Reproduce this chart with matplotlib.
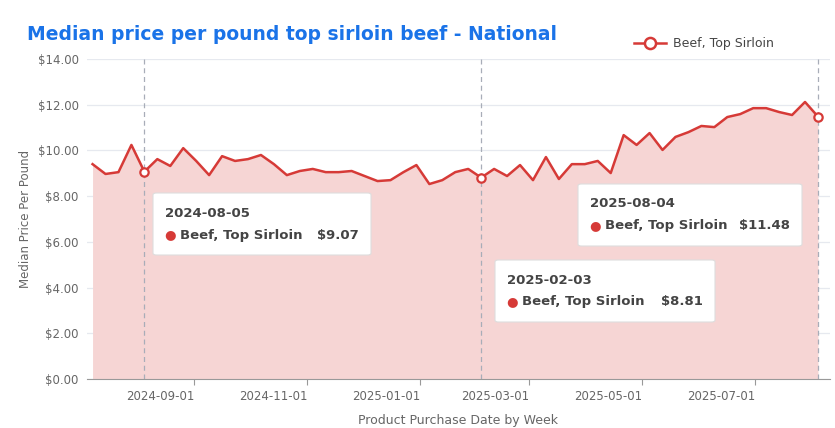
import matplotlib
matplotlib.use("Agg")
import matplotlib.pyplot as plt
import matplotlib.dates as mdates
import numpy as np
import pandas as pd

start = "2024-07-08"
n_weeks = 57
prices = [9.40, 8.97, 9.05, 10.24, 9.07, 9.62, 9.32, 10.10, 9.54, 8.92,
          9.75, 9.54, 9.62, 9.80, 9.40, 8.92, 9.10, 9.19, 9.05, 9.05,
          9.10, 8.88, 8.66, 8.70, 9.05, 9.36, 8.53, 8.70, 9.05, 9.19,
          8.81, 9.19, 8.88, 9.36, 8.70, 9.71, 8.75, 9.40, 9.40, 9.54,
          9.01, 10.67, 10.24, 10.76, 10.02, 10.59, 10.80, 11.07, 11.02, 11.46,
          11.59, 11.85, 11.85, 11.68, 11.55, 12.12, 11.48]
series_name = "Beef, Top Sirloin"
highlight_dates = ["2024-08-05", "2025-02-03", "2025-08-04"]
tick_dates = ["2024-09-01", "2024-11-01", "2025-01-01", "2025-03-01", "2025-05-01", "2025-07-01"]
y_ticks = [0, 2, 4, 6, 8, 10, 12, 14]

dates = pd.date_range(start, periods=n_weeks, freq="7D")
s = pd.Series(prices, index=dates)

W, H = 835, 428
fig = plt.figure(figsize=(W/100, H/100), dpi=100)
ax = fig.add_axes([87/W, 1-379/H, (830-87)/W, (379-59)/H])
red = "#d63a37"
ax.fill_between(dates, prices, 0, color="#f6d5d4", lw=0, zorder=1)
ax.plot(dates, prices, color=red, lw=1.8, zorder=3)
for d in highlight_dates:
    dt = pd.Timestamp(d)
    ax.axvline(dt, color="#a8adb8", lw=0.9, ls=(0, (4, 3)), zorder=2)
    ax.plot(dt, s[dt], "o", ms=6, mfc="white", mec=red, mew=1.6, zorder=4)

ax.set_xlim(pd.Timestamp(start) - pd.Timedelta(days=3), dates[-1] + pd.Timedelta(days=6.5))
ax.set_ylim(0, 14)
ax.set_yticks(y_ticks)
ax.set_yticklabels([f"${v:.2f}" for v in y_ticks], fontsize=8.5, color="#666")
tk = [pd.Timestamp(t) for t in tick_dates]
ax.set_xticks(tk)
ax.set_xticklabels(tick_dates, fontsize=8.5, color="#666", ha="right")
ax.tick_params(axis="y", length=0, pad=6)
ax.tick_params(axis="x", length=4, color="#999", pad=4)
ax.grid(axis="y", color="#e6e9ef", lw=0.9)
for sp in ["top", "right", "left"]:
    ax.spines[sp].set_visible(False)
ax.spines["bottom"].set_color("#999")
ax.set_axisbelow(True)
ax.set_ylabel("Median Price Per Pound", fontsize=8.5, color="#666")
ax.set_xlabel("Product Purchase Date by Week", fontsize=9, color="#666", labelpad=8)

fig.text(27/W, 1-35/H, "Median price per pound top sirloin beef - National", fontsize=13.5,
         fontweight="bold", color="#1a73e8", va="center", family="DejaVu Sans")
# legend
fig.lines.append(plt.Line2D([634/W, 666/W], [1-43/H]*2, color=red, lw=1.8, transform=fig.transFigure))
fig.lines.append(plt.Line2D([650/W], [1-43/H], marker="o", ms=8, mfc="white", mec=red, mew=1.8, transform=fig.transFigure))
fig.text(673/W, 1-43/H, series_name, fontsize=9, color="#444", va="center")

# tooltips
boxes = [("2024-08-05", 153, 193, 371, 255), ("2025-02-03", 495, 260, 715, 322), ("2025-08-04", 578, 184, 802, 246)]
for d, x0, y0, x1, y1 in boxes:
    dt = pd.Timestamp(d)
    rect = matplotlib.patches.FancyBboxPatch((x0/W, 1-y1/H), (x1-x0)/W, (y1-y0)/H,
        boxstyle="round,pad=0,rounding_size=0.004", transform=fig.transFigure,
        fc="white", ec="#dddddd", lw=0.8, zorder=10)
    fig.patches.append(rect)
    fig.text((x0+12)/W, 1-(y0+20)/H, d, fontsize=9.5, fontweight="bold", color="#444", va="center", zorder=11)
    fig.text((x0+11)/W, 1-(y0+42)/H, "●", fontsize=9.5, color=red, va="center", zorder=11)
    fig.text((x0+27)/W, 1-(y0+42)/H, series_name, fontsize=9.5, fontweight="bold", color="#444", va="center", zorder=11)
    fig.text((x1-12)/W, 1-(y0+42)/H, f"${s[dt]:.2f}", fontsize=9.5, fontweight="bold", color="#444", va="center", ha="right", zorder=11)

fig.savefig("out.png", dpi=100)
